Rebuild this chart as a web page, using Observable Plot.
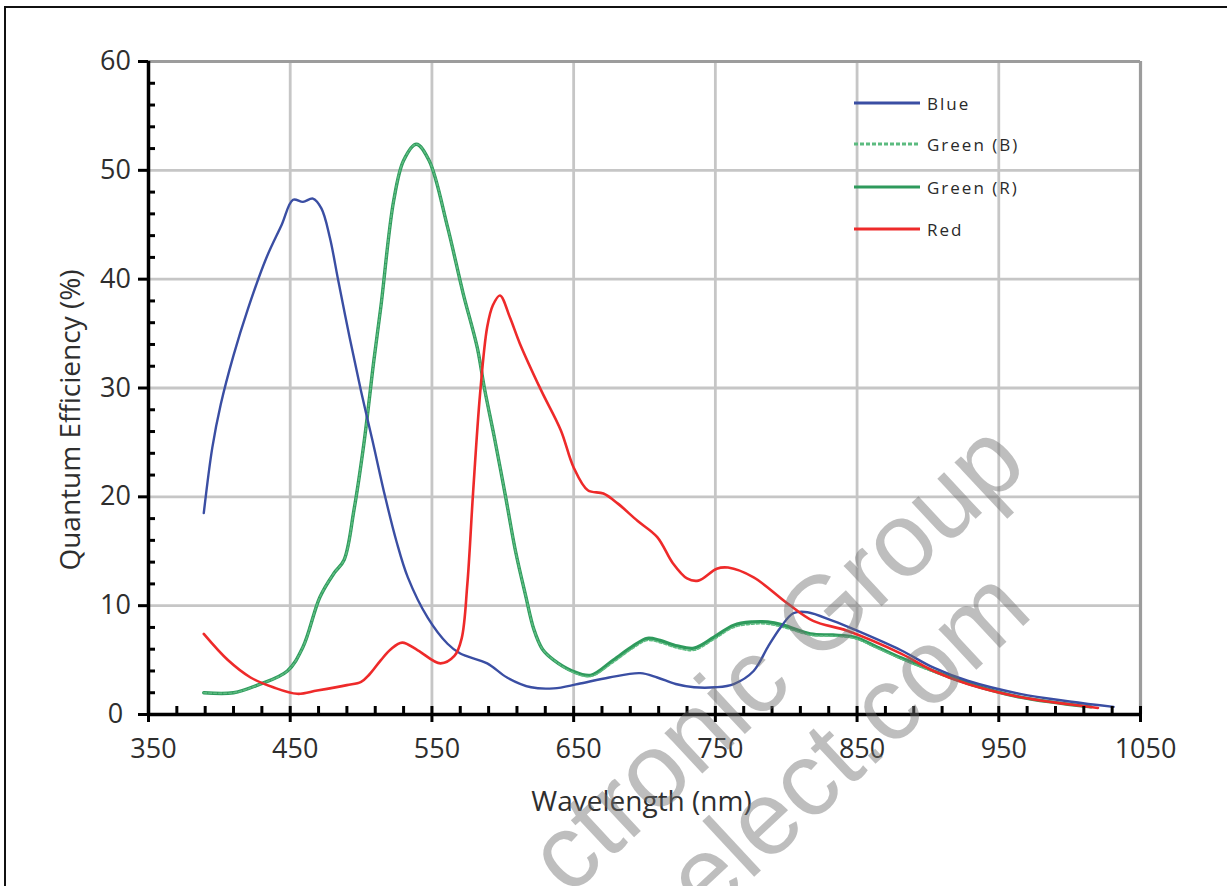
<!DOCTYPE html>
<html>
<head>
<meta charset="utf-8">
<script src="https://cdn.jsdelivr.net/npm/d3@7"></script>
<script src="https://cdn.jsdelivr.net/npm/@observablehq/plot@0.6"></script>
<style>
  html, body { margin: 0; padding: 0; background: #fff; }
  #wrap { position: relative; width: 1227px; height: 886px; overflow: hidden; background: #fff; }
  #frame { position: absolute; left: 4px; top: 6px; right: -10px; bottom: -10px; border-top: 2px solid #111; border-left: 2px solid #111; pointer-events: none; }
  #legend { position: absolute; left: 854px; top: 90px; font-family: "Open Sans", sans-serif; font-size: 17px; letter-spacing: 2px; color: #2a2a2a; }
  .item { position: absolute; left: 0; height: 26px; white-space: nowrap; display: flex; align-items: center; }
  .item svg { width: 66px; height: 10px; margin-right: 7px; }
  #wm { position: absolute; left: 0; top: 0; pointer-events: none; }
</style>
</head>
<body>
<div id="wrap">
  <div id="chart"></div>
  <div id="frame"></div>
  <div id="legend"></div>
  <svg id="wm" width="1227" height="886"></svg>
</div>
<script>
// ---- tick labels ----
const xTickValues = [350, 450, 550, 650, 750, 850, 950, 1050];
const yTickValues = [0, 10, 20, 30, 40, 50, 60];
const xMinorTicks = [370, 390, 410, 430, 470, 490, 510, 530, 570, 590, 610, 630, 670, 690, 710, 730, 770, 790, 810, 830, 870, 890, 910, 930, 970, 990, 1010, 1030];
const yMinorTicks = [2, 4, 6, 8, 12, 14, 16, 18, 22, 24, 26, 28, 32, 34, 36, 38, 42, 44, 46, 48, 52, 54, 56, 58];
const xGrid = [450, 550, 650, 750, 850, 950];
const yGrid = [10, 20, 30, 40, 50];

// ---- series ----
const seriesNames = ["Blue", "Green (B)", "Green (R)", "Red"];

const blueNm = [389, 395, 401, 410, 420, 433, 444, 452, 459, 466, 472, 478, 484, 492, 500, 508, 517, 525, 533, 547, 561, 570, 589, 603, 620, 636, 653, 675, 697, 709, 722, 735, 750, 763, 777, 787, 796, 805, 815, 833, 850, 881, 904, 928, 965, 1000, 1031];
const blueQe = [18.5, 24.5, 28.5, 33.0, 37.2, 41.9, 45.0, 47.3, 47.1, 47.4, 46.5, 43.8, 39.8, 34.6, 29.7, 25.2, 20.0, 15.9, 12.6, 8.9, 6.5, 5.6, 4.7, 3.4, 2.5, 2.4, 2.8, 3.4, 3.8, 3.4, 2.8, 2.5, 2.5, 2.8, 4.0, 6.2, 8.0, 9.3, 9.4, 8.6, 7.7, 5.9, 4.3, 3.1, 1.9, 1.2, 0.7];

const greenRNm = [389, 410, 427, 448, 459, 471, 481, 488, 495, 502, 509, 514, 523, 530, 539, 548, 561, 572, 582, 587, 594, 602, 609, 616, 622, 628, 636, 649, 662, 678, 692, 702, 711, 723, 735, 749, 763, 776, 787, 798, 817, 833, 848, 864, 881, 904, 930, 965, 1015];
const greenRQe = [2.0, 2.0, 2.7, 4.0, 6.2, 10.8, 13.0, 14.2, 18.8, 24.9, 32.5, 37.5, 47.2, 50.9, 52.4, 50.9, 44.8, 38.7, 33.7, 30.0, 25.5, 20.0, 15.0, 11.0, 7.8, 6.0, 5.0, 4.0, 3.6, 5.0, 6.3, 7.0, 6.8, 6.3, 6.1, 7.1, 8.2, 8.5, 8.5, 8.2, 7.4, 7.3, 7.1, 6.2, 5.2, 4.0, 2.8, 1.6, 0.7];

const greenBNm = [389, 410, 427, 448, 459, 471, 481, 488, 495, 502, 509, 514, 523, 530, 539, 548, 561, 572, 582, 587, 594, 602, 609, 616, 622, 628, 636, 649, 662, 678, 692, 702, 711, 723, 735, 749, 763, 776, 787, 798, 817, 833, 848, 864, 881, 904, 930, 965, 1015];
const greenBQe = [2.0, 2.0, 2.7, 4.0, 6.2, 10.8, 13.0, 14.2, 18.8, 24.9, 32.5, 37.5, 47.2, 50.9, 52.4, 50.9, 44.8, 38.7, 33.7, 30.0, 25.5, 20.0, 15.0, 11.0, 7.8, 6.0, 5.0, 3.9, 3.5, 4.8, 6.1, 6.8, 6.6, 6.1, 5.9, 6.9, 8.0, 8.3, 8.3, 8.0, 7.3, 7.2, 7.0, 6.1, 5.1, 3.9, 2.7, 1.6, 0.7];

const redNm = [389, 406, 422, 438, 455, 469, 490, 500, 506, 514, 521, 529, 540, 556, 566, 571, 575, 579, 584, 589, 593, 598, 605, 612, 627, 641, 650, 660, 671, 681, 695, 709, 720, 730, 738, 751, 759, 777, 801, 819, 843, 881, 904, 928, 965, 1020];
const redQe = [7.4, 5.0, 3.4, 2.5, 1.9, 2.2, 2.7, 3.0, 3.7, 5.0, 6.0, 6.6, 5.9, 4.7, 5.4, 7.0, 12.0, 20.3, 29.5, 35.6, 37.6, 38.5, 36.5, 34.1, 29.8, 26.1, 22.7, 20.6, 20.3, 19.4, 17.8, 16.3, 13.9, 12.5, 12.3, 13.4, 13.5, 12.6, 10.2, 8.6, 7.7, 5.6, 4.0, 2.8, 1.6, 0.6];

const colors = {"Blue": "#3a4ea3", "Green (B)": "#5cbb80", "Green (R)": "#2e9a5c", "Red": "#ee2a2a"};

const toRows = (nm, qe, s) => nm.map((x, i) => ({nm: x, qe: qe[i], series: s}));
const blueRows = toRows(blueNm, blueQe, "Blue");
const greenRRows = toRows(greenRNm, greenRQe, "Green (R)");
const greenBRows = toRows(greenBNm, greenBQe, "Green (B)");
const redRows = toRows(redNm, redQe, "Red");

const fontFam = "'Open Sans', 'DejaVu Sans', sans-serif";

const chart = Plot.plot({
  width: 1227,
  height: 886,
  marginLeft: 148,
  marginRight: 87,
  marginTop: 61,
  marginBottom: 172,
  style: {fontFamily: fontFam, fontSize: "27px", color: "#2e2e2e", background: "transparent", overflow: "visible"},
  x: {domain: [350, 1050], axis: null},
  y: {domain: [0, 60], axis: null},
  marks: [
    // grid
    Plot.ruleX(xGrid, {stroke: "#c6c6c6", strokeWidth: 2.8}),
    Plot.ruleY(yGrid, {stroke: "#c6c6c6", strokeWidth: 2.8}),
    // plot frame (top & right)
    Plot.ruleX([1050], {stroke: "#9c9c9c", strokeWidth: 3.2}),
    Plot.ruleY([60], {stroke: "#9c9c9c", strokeWidth: 3.2}),
    // curves
    Plot.line(greenRRows, {x: "nm", y: "qe", stroke: colors["Green (R)"], strokeWidth: 3.4, curve: "catmull-rom"}),
    Plot.line(greenBRows, {x: "nm", y: "qe", stroke: colors["Green (B)"], strokeWidth: 1.6, strokeDasharray: "3,2", curve: "catmull-rom"}),
    Plot.line(blueRows, {x: "nm", y: "qe", stroke: colors["Blue"], strokeWidth: 2.4, curve: "catmull-rom"}),
    Plot.line(redRows, {x: "nm", y: "qe", stroke: colors["Red"], strokeWidth: 2.6, curve: "catmull-rom"}),
    // axis lines
    Plot.ruleX([350], {stroke: "#000", strokeWidth: 3.5}),
    Plot.ruleY([0], {stroke: "#000", strokeWidth: 3.5}),
    // x ticks
    Plot.ruleX(xTickValues, {y1: 0, y2: 0, insetTop: 8, insetBottom: 8, stroke: "#000", strokeWidth: 3}),
    Plot.ruleX(xMinorTicks, {y1: 0, y2: 0, insetTop: 0, insetBottom: 8, stroke: "#000", strokeWidth: 3}),
    // y ticks
    Plot.ruleY(yTickValues, {x1: 350, x2: 350, insetLeft: -10, insetRight: 0, stroke: "#000", strokeWidth: 3}),
    Plot.ruleY(yMinorTicks, {x1: 350, x2: 350, insetLeft: 0, insetRight: -7, stroke: "#000", strokeWidth: 3}),
    // tick labels
    Plot.axisX({ticks: xTickValues, tickSize: 0, tickPadding: 24, dx: 5, label: null, tickFormat: d => String(d), fontSize: 27}),
    Plot.axisY({ticks: yTickValues, tickSize: 0, tickPadding: 33, textAnchor: "middle", label: null, tickFormat: d => String(d), fontSize: 27}),
    // axis titles
    Plot.text(["Wavelength (nm)"], {text: d => d, frameAnchor: "bottom", dx: -3, dy: 88, lineAnchor: "middle", fontSize: 28, fill: "#2e2e2e"}),
    Plot.text(["Quantum Efficiency (%)"], {text: d => d, frameAnchor: "left", textAnchor: "middle", rotate: -90, dx: -77, dy: 32, lineAnchor: "middle", fontSize: 28, fill: "#2e2e2e"})
  ]
});
document.getElementById("chart").appendChild(chart);

// legend
const legend = document.getElementById("legend");
const legendY = [13, 54, 97, 139];
seriesNames.forEach((s, i) => {
  const item = document.createElement("div");
  item.className = "item";
  item.style.top = (legendY[i] - 13) + "px";
  const dash = s === "Green (B)" ? ' stroke-dasharray="4,2"' : "";
  item.innerHTML = `<svg viewBox="0 0 66 10"><line x1="0" y1="5" x2="66" y2="5" stroke="${colors[s]}" stroke-width="3.2"${dash}/></svg><span>${s}</span>`;
  legend.appendChild(item);
});

// watermark (only the part visible in the reference)
const wm = d3.select("#wm");
const wmLines = [
  {text: "ctronic Group", x: 1030, y: 468},
  {text: "elect.com", x: 1035, y: 615}
];
wm.selectAll("text").data(wmLines).join("text")
  .attr("transform", d => `translate(${d.x},${d.y}) rotate(-43)`)
  .attr("text-anchor", "end")
  .attr("font-family", "'Liberation Sans', Arial, sans-serif")
  .attr("font-size", 105)
  .attr("fill", "rgba(110,110,110,0.45)")
  .text(d => d.text);
</script>
</body>
</html>
